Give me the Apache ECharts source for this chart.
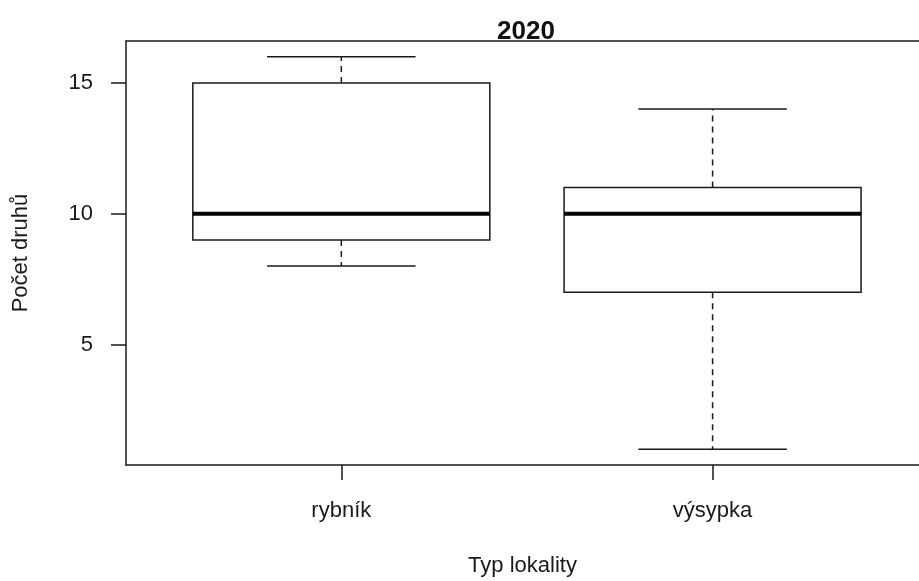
<!DOCTYPE html>
<html>
<head>
<meta charset="utf-8">
<script src="https://cdn.jsdelivr.net/npm/echarts@6/dist/echarts.min.js"></script>
<style>
  html, body { margin: 0; padding: 0; background: #fff; }
  #chart { width: 919px; height: 581px; }
</style>
</head>
<body>
<div id="chart"></div>
<script>
// Species counts per locality type (2020): five-number summaries
const categories = ['rybník', 'výsypka'];
const minVals = [8, 1];
const q1Vals = [9, 7];
const medianVals = [10, 10];
const q3Vals = [15, 11];
const maxVals = [16, 14];
const yTicks = [5, 10, 15];
const xTicks = [1, 2];

const FONT = '"Liberation Sans", Arial, sans-serif';
const INK = '#1a1a1a';
const BOX_HALF = 0.4;
const CAP_HALF = 0.2;

const boxData = categories.map((c, i) => [i + 1, minVals[i], q1Vals[i], medianVals[i], q3Vals[i], maxVals[i]]);

function renderBox(params, api) {
  const x = api.value(0);
  const lo = api.value(1), q1 = api.value(2), med = api.value(3), q3 = api.value(4), hi = api.value(5);
  const pt = (vx, vy) => api.coord([vx, vy]);
  const lineStyle = { stroke: INK, lineWidth: 1.5, fill: null };
  const dashStyle = { stroke: INK, lineWidth: 1.5, lineDash: [6, 5], fill: null };
  const seg = (a, b, style) => ({
    type: 'line',
    shape: { x1: a[0], y1: a[1], x2: b[0], y2: b[1] },
    style: style
  });
  const tl = pt(x - BOX_HALF, q3), br = pt(x + BOX_HALF, q1);
  return {
    type: 'group',
    children: [
      seg(pt(x, q3), pt(x, hi), dashStyle),
      seg(pt(x, q1), pt(x, lo), dashStyle),
      seg(pt(x - CAP_HALF, hi), pt(x + CAP_HALF, hi), lineStyle),
      seg(pt(x - CAP_HALF, lo), pt(x + CAP_HALF, lo), lineStyle),
      {
        type: 'rect',
        shape: { x: tl[0], y: tl[1], width: br[0] - tl[0], height: br[1] - tl[1] },
        style: { stroke: INK, lineWidth: 1.5, fill: '#fff' }
      },
      seg(pt(x - BOX_HALF, med), pt(x + BOX_HALF, med), { stroke: '#000', lineWidth: 4.2, fill: null })
    ]
  };
}

const axisLineStyle = { color: INK, width: 1.5 };

const chart = echarts.init(document.getElementById('chart'), null, { renderer: 'canvas' });
chart.setOption({
  backgroundColor: '#fff',
  animation: false,
  title: {
    text: '2020',
    left: 521,
    top: 14,
    textAlign: 'center',
    textStyle: { fontFamily: FONT, fontSize: 26, fontWeight: 'bold', color: '#111' }
  },
  grid: {
    left: 126,
    right: 0,
    top: 41,
    bottom: 116,
    show: false,
    containLabel: false,
    outerBoundsMode: 'none'
  },
  xAxis: [{
    type: 'value',
    min: 0.42,
    max: 2.556,
    name: 'Typ lokality',
    nameLocation: 'middle',
    nameGap: 90,
    nameTextStyle: { fontFamily: FONT, fontSize: 22, color: INK },
    axisLine: { show: true, lineStyle: axisLineStyle },
    axisTick: { show: true, customValues: xTicks, length: 15, lineStyle: axisLineStyle },
    axisLabel: {
      customValues: xTicks,
      margin: 35,
      fontFamily: FONT,
      fontSize: 22,
      color: INK,
      formatter: v => categories[Math.round(v) - 1] || ''
    },
    splitLine: { show: false }
  }, {
    // top edge of the plot frame
    type: 'value',
    position: 'top',
    min: 0.42,
    max: 2.556,
    axisLine: { show: true, onZero: false, lineStyle: axisLineStyle },
    axisTick: { show: false },
    axisLabel: { show: false },
    splitLine: { show: false }
  }],
  yAxis: {
    type: 'value',
    min: 0.4,
    max: 16.6,
    name: 'Počet druhů',
    nameLocation: 'middle',
    nameGap: 94,
    nameRotate: 90,
    nameTextStyle: { fontFamily: FONT, fontSize: 22, color: INK },
    axisLine: { show: true, onZero: false, lineStyle: axisLineStyle },
    axisTick: { show: true, customValues: yTicks, length: 15, lineStyle: axisLineStyle },
    axisLabel: {
      customValues: yTicks,
      margin: 33,
      fontFamily: FONT,
      fontSize: 22,
      color: INK
    },
    splitLine: { show: false }
  },
  series: [{
    type: 'custom',
    renderItem: renderBox,
    data: boxData,
    xAxisIndex: 0,
    encode: { x: 0, y: [1, 2, 3, 4, 5] },
    clip: false,
    silent: true
  }]
});
</script>
</body>
</html>
